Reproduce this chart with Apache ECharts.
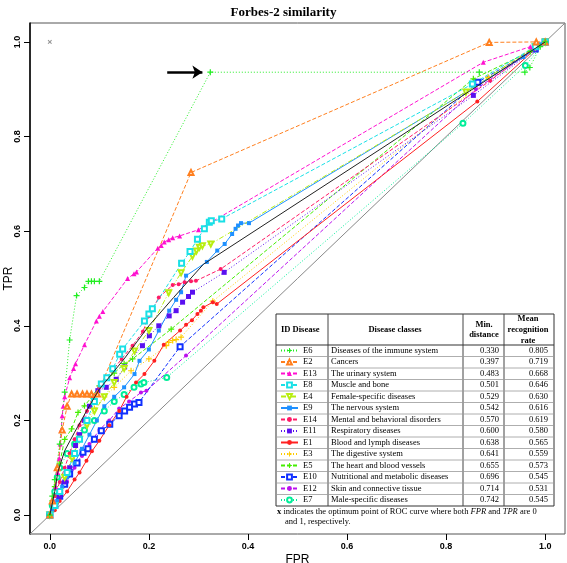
<!DOCTYPE html>
<html><head><meta charset="utf-8">
<script src="https://cdn.jsdelivr.net/npm/echarts@6/dist/echarts.min.js"></script>
<style>html,body{margin:0;padding:0;background:#fff}#c{width:567px;height:563px}</style>
</head><body><div id="c"></div>
<script>
// ---------- data ----------
const ids = ['E6','E2','E13','E8','E4','E9','E14','E11','E1','E3','E5','E10','E12','E7'];
const diseases = ['Diseases of the immune system','Cancers','The urinary system','Muscle and bone','Female-specific diseases','The nervous system','Mental and behavioral disorders','Respiratory diseases','Blood and lymph diseases','The digestive system','The heart and blood vessels','Nutritional and metabolic diseases','Skin and connective tissue','Male-specific diseases'];
const minDistance = ['0.330','0.397','0.483','0.501','0.529','0.542','0.570','0.600','0.638','0.641','0.655','0.696','0.714','0.742'];
const meanRate = ['0.805','0.719','0.668','0.646','0.630','0.616','0.619','0.580','0.565','0.559','0.573','0.545','0.531','0.545'];
const xTicks = [0, 0.2, 0.4, 0.6, 0.8, 1.0];
const yTicks = [0, 0.2, 0.4, 0.6, 0.8, 1.0];

const E6 = [[0,0],[0.005,0.04],[0.01,0.075],[0.02,0.15],[0.03,0.26],[0.04,0.37],[0.054,0.464],[0.07,0.481],[0.078,0.494],[0.084,0.494],[0.09,0.494],[0.1,0.494],[0.324,0.936],[0.867,0.936],[0.959,0.936],[0.969,0.946],[0.99,0.99],[1,1]];
const E2 = [[0,0],[0.005,0.03],[0.015,0.1],[0.025,0.18],[0.035,0.23],[0.044,0.256],[0.055,0.256],[0.066,0.256],[0.075,0.256],[0.084,0.256],[0.096,0.256],[0.285,0.724],[0.887,0.999],[0.982,1.0],[1,1]];
const E13 = [[0,0],[0.008,0.03],[0.012,0.06],[0.016,0.09],[0.019,0.12],[0.021,0.15],[0.023,0.18],[0.025,0.21],[0.027,0.23],[0.03,0.25],[0.04,0.29],[0.048,0.31],[0.052,0.32],[0.07,0.36],[0.094,0.41],[0.1,0.42],[0.107,0.43],[0.157,0.5],[0.17,0.51],[0.175,0.514],[0.218,0.564],[0.225,0.57],[0.231,0.577],[0.24,0.582],[0.248,0.586],[0.262,0.59],[0.3,0.603],[0.875,0.957],[0.97,0.99],[1,1]];
const E8 = [[0,0],[0.01,0.02],[0.02,0.05],[0.035,0.09],[0.05,0.13],[0.06,0.16],[0.075,0.2],[0.09,0.24],[0.104,0.277],[0.115,0.29],[0.127,0.309],[0.141,0.34],[0.147,0.351],[0.191,0.41],[0.2,0.425],[0.207,0.436],[0.266,0.532],[0.283,0.557],[0.298,0.583],[0.312,0.605],[0.322,0.619],[0.326,0.622],[0.347,0.626],[0.853,0.911],[0.98,0.99],[1,1]];
const E4 = [[0,0],[0.01,0.02],[0.02,0.05],[0.03,0.08],[0.045,0.12],[0.06,0.16],[0.075,0.19],[0.09,0.22],[0.11,0.25],[0.13,0.28],[0.15,0.31],[0.171,0.347],[0.2,0.39],[0.24,0.47],[0.265,0.512],[0.288,0.547],[0.296,0.558],[0.302,0.566],[0.308,0.569],[0.325,0.573],[0.84,0.894],[0.98,0.99],[1,1]];
const E9 = [[0,0],[0.005,0.01],[0.015,0.03],[0.025,0.06],[0.035,0.08],[0.05,0.11],[0.065,0.14],[0.08,0.17],[0.095,0.2],[0.11,0.23],[0.13,0.25],[0.15,0.27],[0.171,0.298],[0.181,0.326],[0.2,0.35],[0.22,0.39],[0.241,0.432],[0.255,0.455],[0.265,0.471],[0.275,0.506],[0.317,0.535],[0.338,0.559],[0.353,0.573],[0.368,0.594],[0.375,0.605],[0.38,0.612],[0.386,0.617],[0.402,0.617],[0.956,0.968],[0.99,0.995],[1,1]];
const E14 = [[0,0],[0.005,0.02],[0.01,0.04],[0.02,0.07],[0.03,0.1],[0.04,0.13],[0.05,0.16],[0.06,0.19],[0.075,0.22],[0.087,0.25],[0.1,0.27],[0.115,0.29],[0.13,0.31],[0.145,0.33],[0.167,0.358],[0.188,0.388],[0.2,0.42],[0.22,0.46],[0.248,0.486],[0.26,0.488],[0.272,0.492],[0.285,0.494],[0.295,0.495],[0.345,0.52],[0.889,0.918],[0.98,0.99],[1,1]];
const E11 = [[0,0],[0.01,0.02],[0.02,0.04],[0.03,0.07],[0.04,0.1],[0.052,0.147],[0.06,0.17],[0.07,0.2],[0.08,0.23],[0.097,0.263],[0.114,0.27],[0.134,0.287],[0.151,0.313],[0.187,0.358],[0.201,0.379],[0.22,0.4],[0.241,0.421],[0.255,0.432],[0.268,0.45],[0.28,0.462],[0.288,0.471],[0.352,0.513],[0.855,0.887],[0.98,0.985],[1,1]];
const E1 = [[0,0],[0.01,0.01],[0.02,0.03],[0.035,0.05],[0.05,0.075],[0.06,0.09],[0.074,0.115],[0.085,0.135],[0.1,0.157],[0.12,0.19],[0.14,0.22],[0.155,0.25],[0.174,0.28],[0.191,0.298],[0.211,0.326],[0.23,0.36],[0.263,0.39],[0.275,0.402],[0.287,0.412],[0.298,0.425],[0.305,0.432],[0.31,0.439],[0.329,0.45],[0.337,0.446],[0.863,0.874],[0.98,0.985],[1,1]];
const E3 = [[0,0],[0.01,0.02],[0.02,0.05],[0.03,0.08],[0.045,0.12],[0.06,0.16],[0.075,0.2],[0.09,0.225],[0.11,0.25],[0.13,0.27],[0.164,0.305],[0.2,0.33],[0.235,0.358],[0.24,0.365],[0.248,0.369],[0.255,0.371],[0.265,0.376],[0.329,0.452],[0.885,0.925],[0.98,0.99],[1,1]];
const E5 = [[0,0],[0.005,0.03],[0.01,0.06],[0.02,0.11],[0.03,0.16],[0.044,0.182],[0.057,0.217],[0.07,0.231],[0.085,0.25],[0.1,0.273],[0.13,0.3],[0.15,0.32],[0.167,0.33],[0.245,0.393],[0.855,0.922],[0.97,0.98],[1,1]];
const E10 = [[0,0],[0.01,0.02],[0.02,0.04],[0.03,0.065],[0.04,0.087],[0.055,0.11],[0.067,0.133],[0.077,0.14],[0.09,0.16],[0.104,0.178],[0.121,0.192],[0.14,0.21],[0.151,0.22],[0.161,0.228],[0.171,0.235],[0.18,0.238],[0.263,0.356],[0.864,0.915],[0.98,0.985],[1,1]];
const E12 = [[0,0],[0.01,0.02],[0.02,0.04],[0.035,0.07],[0.05,0.1],[0.065,0.125],[0.08,0.15],[0.1,0.18],[0.12,0.2],[0.14,0.225],[0.16,0.24],[0.184,0.259],[0.195,0.263],[0.275,0.337],[0.86,0.9],[0.98,0.985],[1,1]];
const E7 = [[0,0],[0.005,0.02],[0.01,0.05],[0.015,0.08],[0.02,0.1],[0.035,0.13],[0.05,0.15],[0.07,0.18],[0.09,0.2],[0.11,0.22],[0.13,0.24],[0.15,0.255],[0.17,0.27],[0.184,0.277],[0.19,0.28],[0.236,0.291],[0.834,0.828],[0.96,0.95],[1,1]];
const meanCurve = [[0,0],[0.01,0.05],[0.016,0.09],[0.03,0.136],[0.05,0.175],[0.08,0.231],[0.1,0.266],[0.15,0.33],[0.2,0.4],[0.25,0.46],[0.31,0.53],[1,1]];
const optimum = [[0,1]];
const diagonal = [[-0.04,-0.04],[1.04,1.04]];
const arrowFrom = [0.237,0.936];
const arrowTo = [0.308,0.936];

const curves = {E6,E2,E13,E8,E4,E9,E14,E11,E1,E3,E5,E10,E12,E7};

// ---------- styles ----------
const PLUS = 'path://M-1,-0.2L-0.2,-0.2L-0.2,-1L0.2,-1L0.2,-0.2L1,-0.2L1,0.2L0.2,0.2L0.2,1L-0.2,1L-0.2,0.2L-1,0.2Z';
const DOT = [1,2], DASH = [4,2], DASHDOT = [5,2,1,2];
const styles = {
  E6:  {color:'#22EE22', dash:DOT, symbol:PLUS, size:6},
  E2:  {color:'#FF7F1E', dash:DASH, symbol:'emptyTriangle', size:5},
  E13: {color:'#FF10D0', dash:DASH, symbol:'triangle', size:5},
  E8:  {color:'#19E0E6', dash:DASH, symbol:'emptyRect', size:5},
  E4:  {color:'#B8EE10', dash:DASHDOT, symbol:'emptyTriangle', size:5, rotate:180},
  E9:  {color:'#1E90FF', dash:'solid', symbol:'rect', size:4},
  E14: {color:'#FF1A66', dash:DASH, symbol:'circle', size:4},
  E11: {color:'#5A10F0', dash:DOT, symbol:'rect', size:5},
  E1:  {color:'#FF2020', dash:'solid', symbol:'circle', size:4},
  E3:  {color:'#FFCC00', dash:DOT, symbol:PLUS, size:6},
  E5:  {color:'#44EE00', dash:DASH, symbol:PLUS, size:6},
  E10: {color:'#1030FF', dash:DASH, symbol:'emptyRect', size:5},
  E12: {color:'#BB11EE', dash:DASH, symbol:'circle', size:4},
  E7:  {color:'#00EE99', dash:DOT, symbol:'emptyCircle', size:5}
};

const series = [];
series.push({type:'line', name:'diag', data:diagonal, symbol:'none', silent:true,
  lineStyle:{color:'#888', width:1}, z:1});
ids.slice().reverse().forEach(id => {
  const s = styles[id];
  series.push({type:'line', name:id, data:curves[id], symbol:s.symbol, symbolSize:s.size,
    symbolRotate:s.rotate||0, showSymbol:true, showAllSymbol:true,
    lineStyle:{color:s.color, width:1, type:s.dash}, itemStyle:{color:s.color}, z:3});
});
series.push({type:'line', name:'mean', data:meanCurve, symbol:'none',
  lineStyle:{color:'#222', width:1}, z:4});
series.push({type:'scatter', name:'opt', data:optimum, symbol:PLUS, symbolRotate:45, symbolSize:5,
  itemStyle:{color:'#777'}, z:4,
  markLine:{silent:true, symbol:['none','arrow'], symbolSize:10,
    lineStyle:{color:'#000', width:2.5, type:'solid'}, label:{show:false},
    data:[[{coord:arrowFrom},{coord:arrowTo}]]}});

// ---------- table ----------
const T = {x0:276, x1:554, y0:314, yh:345, rowH:11.5, c1:328, c2:463, c3:504};
const yEnd = T.yh + T.rowH*ids.length;
const SERIF = '"Liberation Serif", "Times New Roman", serif';
const g = [];
g.push({type:'rect', z:40, shape:{x:T.x0, y:T.y0, width:T.x1-T.x0, height:yEnd-T.y0}, style:{fill:'#fff', stroke:'#333', lineWidth:1}});
[T.c1,T.c2,T.c3].forEach(x => g.push({type:'line', z:41, shape:{x1:x, y1:T.y0, x2:x, y2:yEnd}, style:{stroke:'#444', lineWidth:1}}));
for (let i=0;i<ids.length;i++) {
  const y = T.yh + T.rowH*i;
  g.push({type:'line', z:41, shape:{x1:T.x0, y1:y, x2:T.x1, y2:y}, style:{stroke: i===0?'#333':'#999', lineWidth: i===0?1.2:0.8}});
}
function txt(x,y,text,opt){ return Object.assign({type:'text', z:42, x:x, y:y, style:Object.assign({text:text, fontFamily:SERIF, fontSize:8.5, fill:'#000', align:'left', verticalAlign:'middle'}, opt||{})}); }
g.push(txt(281,330,'ID Disease',{fontWeight:'bold'}));
g.push(txt(395,330,'Disease classes',{fontWeight:'bold', align:'center'}));
g.push(txt(484,330,'Min.\ndistance',{fontWeight:'bold', align:'center', lineHeight:10.5}));
g.push(txt(528,330,'Mean\nrecognition\nrate',{fontWeight:'bold', align:'center', lineHeight:10.8}));
for (let i=0;i<ids.length;i++) {
  const y = T.yh + T.rowH*i + T.rowH/2;
  g.push(txt(331,y,diseases[i]));
  g.push(txt(499,y,minDistance[i],{align:'right'}));
  g.push(txt(548,y,meanRate[i],{align:'right'}));
}
g.push(txt(277,512,'{b|x} indicates the optimum point of ROC curve where both {i|FPR} and {i|TPR} are 0',
  {rich:{b:{fontWeight:'bold', fontFamily:SERIF, fontSize:8.5}, i:{fontStyle:'italic', fontFamily:SERIF, fontSize:8.5}}}));
g.push(txt(285,522,'and 1, respectively.'));

const chart = echarts.init(document.getElementById('c'), null, {renderer:'canvas'});
chart.setOption({
  animation:false,
  title:{text:'Forbes-2 similarity', left:'center', top:1,
    textStyle:{fontFamily:SERIF, fontWeight:'bold', fontSize:13, color:'#000'}},
  grid:{left:30, right:2, top:23, bottom:29, show:true, borderColor:'#555', borderWidth:1,
    containLabel:false, outerBoundsMode:'none'},
  xAxis:{type:'value', min:-0.04, max:1.04, splitLine:{show:false},
    axisLine:{show:false, onZero:false},
    axisTick:{show:true, customValues:xTicks, length:6, lineStyle:{color:'#000'}},
    axisLabel:{customValues:xTicks, formatter:v=>v.toFixed(1), fontFamily:'"Liberation Sans", Arial', fontSize:9, fontWeight:'bold', color:'#000', margin:8},
    name:'FPR', nameLocation:'middle', nameGap:20, nameMoveOverlap:false,
    nameTextStyle:{fontFamily:'"Liberation Sans", Arial', fontSize:12, color:'#000'}},
  yAxis:{type:'value', min:-0.04, max:1.04, splitLine:{show:false},
    axisLine:{show:true, onZero:false, lineStyle:{color:'#000', width:1.5}},
    axisTick:{show:true, customValues:yTicks, length:6, lineStyle:{color:'#000'}},
    axisLabel:{customValues:yTicks, formatter:v=>v.toFixed(1), rotate:90, fontFamily:'"Liberation Sans", Arial', fontSize:9, fontWeight:'bold', color:'#000', margin:8},
    name:'TPR', nameLocation:'middle', nameGap:15, nameRotate:90, nameMoveOverlap:false,
    nameTextStyle:{fontFamily:'"Liberation Sans", Arial', fontSize:12, color:'#000'}},
  legend:{data:ids, orient:'vertical', left:280, top:346, padding:0, itemWidth:17, itemHeight:6, itemGap:2.5,
    selectedMode:false, z:50,
    textStyle:{fontFamily:SERIF, fontSize:8.5, color:'#000', lineHeight:9}},
  graphic:{elements:g},
  series:series
});
</script></body></html>
